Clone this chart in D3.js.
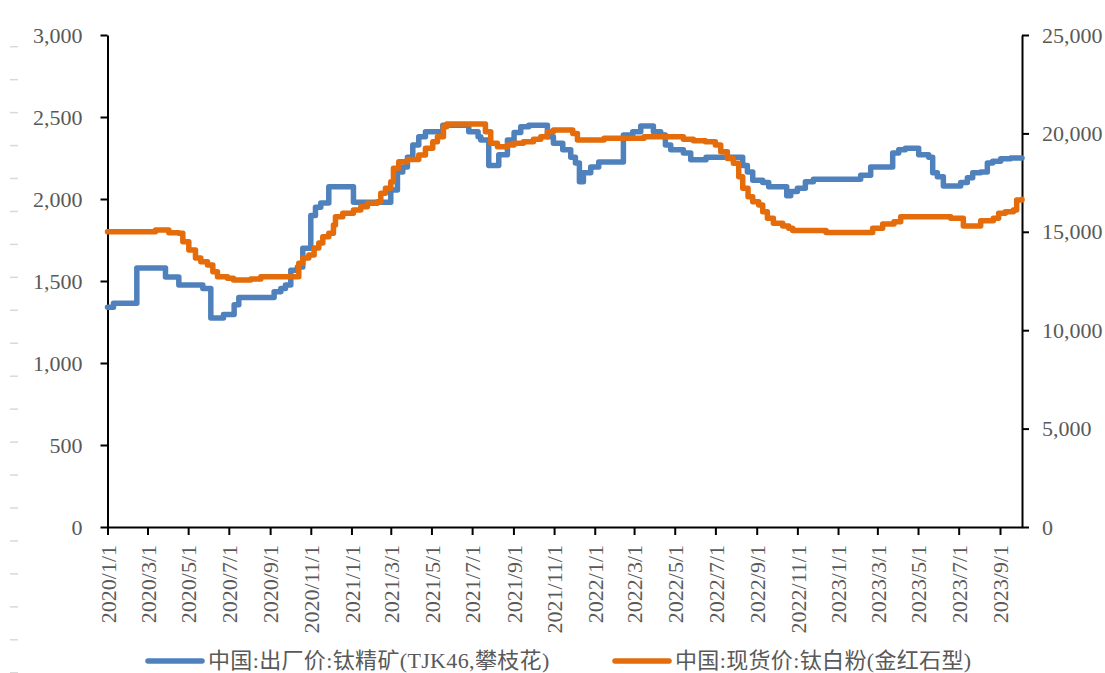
<!DOCTYPE html>
<html lang="zh-CN">
<head>
    <meta charset="UTF-8">
    <title>钛精矿与钛白粉价格</title>
    <script src="https://d3js.org/d3.v7.min.js"></script>
    <style>
        body { margin: 0; background: #fff; }
        svg text {
            font-family: "Liberation Serif", "Times New Roman", "Noto Sans CJK SC", serif;
            fill: #595959;
        }
    </style>
</head>
<body>
    <svg id="chart" width="1105" height="673"></svg>

    <script>
        // 钛精矿 (左轴, 元/吨)
        const concentrateDates = ["2020-01-01","2020-01-10","2020-02-14","2020-03-28","2020-04-17","2020-05-23","2020-06-04","2020-06-23","2020-07-09","2020-07-16","2020-09-07","2020-09-17","2020-09-24","2020-10-02","2020-10-12","2020-10-20","2020-11-01","2020-11-08","2020-11-16","2020-11-28","2021-01-04","2021-03-01","2021-03-11","2021-03-19","2021-03-26","2021-04-03","2021-04-12","2021-04-22","2021-05-18","2021-06-26","2021-07-10","2021-07-14","2021-07-26","2021-08-10","2021-08-23","2021-09-02","2021-09-12","2021-09-24","2021-10-22","2021-10-31","2021-11-14","2021-11-26","2021-12-03","2021-12-09","2021-12-15","2021-12-26","2022-01-07","2022-02-13","2022-02-27","2022-03-11","2022-03-30","2022-04-10","2022-04-17","2022-04-25","2022-05-14","2022-05-25","2022-06-17","2022-08-11","2022-08-18","2022-08-26","2022-09-10","2022-09-19","2022-10-16","2022-10-22","2022-11-01","2022-11-13","2022-11-25","2023-02-04","2023-02-19","2023-03-24","2023-04-02","2023-04-12","2023-05-02","2023-05-17","2023-05-23","2023-05-30","2023-06-08","2023-07-04","2023-07-14","2023-07-22","2023-08-03","2023-08-13","2023-08-21","2023-09-02","2023-09-17","2023-10-04"];
        const concentratePrices = [1340,1365,1580,1525,1475,1455,1275,1295,1355,1400,1435,1455,1475,1565,1585,1700,1900,1950,1975,2075,1980,2055,2165,2195,2255,2330,2380,2410,2450,2410,2380,2360,2205,2270,2360,2405,2440,2450,2380,2340,2300,2255,2220,2105,2160,2195,2225,2390,2410,2445,2410,2390,2330,2300,2280,2240,2255,2205,2165,2115,2100,2075,2020,2045,2065,2105,2120,2145,2195,2280,2300,2310,2270,2255,2160,2135,2080,2100,2130,2160,2165,2220,2230,2245,2250,2250];

        // 钛白粉 (右轴, 元/吨)
        const pigmentDates = ["2020-01-01","2020-03-13","2020-04-02","2020-04-17","2020-04-23","2020-05-02","2020-05-12","2020-05-20","2020-05-30","2020-06-07","2020-06-14","2020-06-29","2020-07-08","2020-08-03","2020-08-18","2020-10-14","2020-10-20","2020-10-29","2020-11-06","2020-11-13","2020-11-19","2020-11-28","2020-12-05","2020-12-08","2020-12-19","2021-01-04","2021-01-15","2021-01-25","2021-02-09","2021-02-14","2021-02-21","2021-03-01","2021-03-05","2021-03-13","2021-03-26","2021-04-12","2021-04-22","2021-05-03","2021-05-10","2021-05-19","2021-05-24","2021-07-21","2021-07-29","2021-08-08","2021-08-23","2021-09-02","2021-09-16","2021-10-01","2021-10-12","2021-10-22","2021-10-31","2021-11-29","2021-12-06","2022-01-15","2022-03-16","2022-05-14","2022-05-29","2022-06-16","2022-07-01","2022-07-09","2022-07-19","2022-07-28","2022-08-05","2022-08-11","2022-08-19","2022-08-26","2022-09-04","2022-09-10","2022-09-17","2022-09-26","2022-10-10","2022-10-19","2022-10-25","2022-12-14","2023-02-22","2023-03-09","2023-03-26","2023-04-05","2023-06-19","2023-07-08","2023-08-03","2023-08-22","2023-08-30","2023-09-09","2023-09-21","2023-09-26","2023-10-04"];
        const pigmentPrices = [15000,15090,14950,14920,14500,14070,13670,13480,13310,12970,12720,12640,12550,12600,12720,13400,13670,13820,14180,14430,14750,14920,15340,15770,15940,16110,16270,16450,16530,16960,17210,17540,18230,18560,18680,18900,19240,19580,19830,20340,20480,20090,19500,19320,19410,19500,19580,19700,19830,20090,20170,20000,19660,19750,19830,19700,19630,19580,19410,19070,18730,18480,17800,17210,16780,16530,16360,16020,15690,15430,15290,15180,15060,14970,15180,15400,15510,15770,15690,15290,15560,15690,15940,16020,16110,16620,16650];

        const seriesNames = ["中国:出厂价:钛精矿(TJK46,攀枝花)", "中国:现货价:钛白粉(金红石型)"];
        const seriesColors = ["#4f81bd", "#e46c0a"];
        const leftTicks = [0, 500, 1000, 1500, 2000, 2500, 3000];
        const rightTicks = [0, 5000, 10000, 15000, 20000, 25000];
        const xStart = "2020-01-01", xEnd = "2023-10-04";

        const parseDate = d3.timeParse("%Y-%m-%d");
        const concentrate = concentrateDates.map((d, i) => ({ date: parseDate(d), value: concentratePrices[i] }));
        const pigment = pigmentDates.map((d, i) => ({ date: parseDate(d), value: pigmentPrices[i] }));

        const svg = d3.select("#chart");

        const x = d3.scaleTime()
            .domain([parseDate(xStart), parseDate(xEnd)])
            .range([107.5, 1022]);
        const yLeft = d3.scaleLinear().domain([0, 3000]).range([527, 35]);
        const yRight = d3.scaleLinear().domain([0, 25000]).range([527, 35]);

        // faint marks along the left edge
        svg.append("g")
            .selectAll("line")
            .data(d3.range(20))
            .join("line")
            .attr("x1", 10).attr("x2", 18)
            .attr("y1", i => 46.7 + i * 32.95)
            .attr("y2", i => 46.7 + i * 32.95)
            .attr("stroke", "#d9d9d9")
            .attr("stroke-width", 1.5);

        const styleAxis = g => {
            g.select(".domain").attr("stroke", "#000").attr("stroke-width", 2);
            g.selectAll(".tick line").attr("stroke", "#000").attr("stroke-width", 2);
            g.selectAll("text").style("font-size", "22px");
        };

        svg.append("g")
            .attr("transform", `translate(${x.range()[0]},0)`)
            .call(d3.axisLeft(yLeft).tickValues(leftTicks).tickSize(7).tickSizeOuter(0)
                .tickPadding(18).tickFormat(d3.format(",")))
            .call(styleAxis);

        svg.append("g")
            .attr("transform", `translate(${x.range()[1]},0)`)
            .call(d3.axisRight(yRight).tickValues(rightTicks).tickSize(7).tickSizeOuter(0)
                .tickPadding(13).tickFormat(d3.format(",")))
            .call(styleAxis);

        const monthTicks = d3.timeMonth.every(2).range(parseDate(xStart), parseDate(xEnd));
        svg.append("g")
            .attr("transform", `translate(0,${yLeft(0)})`)
            .call(d3.axisBottom(x).tickValues(monthTicks).tickSize(8).tickSizeOuter(0)
                .tickFormat(d3.timeFormat("%Y/%-m/%-d")))
            .call(styleAxis)
            .selectAll("text")
            .attr("transform", "rotate(-90)")
            .attr("text-anchor", "end")
            .attr("x", -18)
            .attr("y", 0)
            .attr("dy", "0.35em");

        const lineLeft = d3.line()
            .x(d => x(d.date))
            .y(d => yLeft(d.value))
            .curve(d3.curveStepAfter);
        const lineRight = d3.line()
            .x(d => x(d.date))
            .y(d => yRight(d.value))
            .curve(d3.curveStepAfter);

        [[concentrate, lineLeft, seriesColors[0]], [pigment, lineRight, seriesColors[1]]].forEach(([data, line, color]) => {
            svg.append("path")
                .datum(data)
                .attr("fill", "none")
                .attr("stroke", color)
                .attr("stroke-width", 5.5)
                .attr("stroke-linejoin", "round")
                .attr("stroke-linecap", "round")
                .attr("d", line);
        });

        // legend
        const legendX = [148, 615];
        const legend = svg.append("g").attr("transform", "translate(0,660)");
        seriesNames.forEach((name, i) => {
            legend.append("line")
                .attr("x1", legendX[i]).attr("x2", legendX[i] + 54)
                .attr("y1", 1).attr("y2", 1)
                .attr("stroke", seriesColors[i])
                .attr("stroke-width", 5.5)
                .attr("stroke-linecap", "round");
            legend.append("text")
                .attr("x", legendX[i] + 60)
                .attr("y", 0)
                .attr("dy", "0.35em")
                .style("font-size", "22px")
                .style("letter-spacing", "0.35px")
                .text(name);
        });
    </script>
</body>
</html>
